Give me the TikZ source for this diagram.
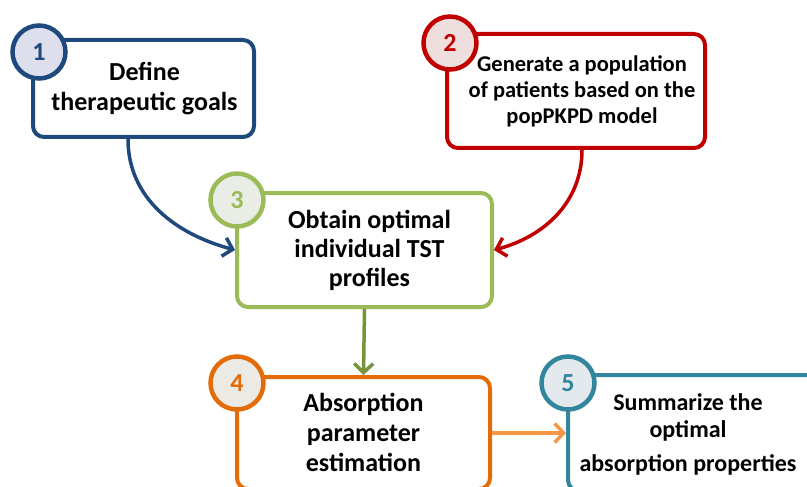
\documentclass[tikz,border=0pt]{standalone}
\usepackage{fontspec}
\setmainfont{Carlito}
\usetikzlibrary{arrows.meta,shadows}

\definecolor{cblue}{HTML}{1F497D}
\definecolor{cbluefill}{HTML}{DDE0EC}
\definecolor{cred}{HTML}{C00000}
\definecolor{credfill}{HTML}{EFDEDE}
\definecolor{cgreen}{HTML}{9BBB59}
\definecolor{cgreenfill}{HTML}{EAEDE6}
\definecolor{cgreenarrow}{HTML}{77933C}
\definecolor{corange}{HTML}{E36C09}
\definecolor{corangefill}{HTML}{EBEAE5}
\definecolor{corangearrow}{HTML}{F79646}
\definecolor{cteal}{HTML}{31859C}
\definecolor{ctealfill}{HTML}{E3E9EC}

\tikzset{
  stepbox/.style={draw=#1, line width=4pt, rounded corners=11pt, fill=white,
    inner sep=0pt, drop shadow={opacity=0.18, shadow xshift=1pt, shadow yshift=-2pt}},
  numcirc/.style={circle, draw=#1, line width=4.5pt, minimum size=53pt,
    inner sep=0pt, font=\fontsize{26}{26}\selectfont\bfseries, text=#1},
  boxtext/.style={align=center, font=\bfseries},
  flow/.style={line width=3.5pt, -{Straight Barb[length=9pt,width=19pt,line width=3.5pt]}},
}

\begin{document}
\begin{tikzpicture}[x=1pt,y=1pt]
\useasboundingbox (0,0) rectangle (807,-487);
\clip (0,0) rectangle (807,-487);

% step boxes
\node[stepbox=cblue, minimum width=221pt, minimum height=97pt] (b1) at (143.5,-88.5) {};
\node[stepbox=cred, minimum width=258pt, minimum height=114pt] (b2) at (576,-91) {};
\node[stepbox=cgreen, minimum width=255pt, minimum height=114pt] (b3) at (364.5,-250) {};
\node[stepbox=corange, minimum width=253pt, minimum height=112pt] (b4) at (363.5,-433) {};
\node[stepbox=cteal, minimum width=252pt, minimum height=116pt] (b5) at (694,-433) {};

% box texts
\node[boxtext, font=\fontsize{26}{30}\selectfont\bfseries] (t1) at ([xshift=1pt]b1.center) {Define\\therapeutic goals};
\node[boxtext, font=\fontsize{22.5}{26}\selectfont\bfseries] (t2) at ([xshift=6pt]b2.center) {Generate a population\\of patients based on the\\popPKPD model};
\node[boxtext, font=\fontsize{26}{29}\selectfont\bfseries] (t3) at ([xshift=5pt]b3.center) {Obtain optimal\\individual TST\\profiles};
\node[boxtext, font=\fontsize{26}{30}\selectfont\bfseries] (t4) at ([yshift=1pt]b4.center) {Absorption\\parameter\\estimation};
\node[boxtext, font=\fontsize{24}{27}\selectfont\bfseries] (t5) at ([xshift=-6pt,yshift=-1pt]b5.center) {Summarize the\\optimal\\[7pt]absorption properties};

% number badges
\node[numcirc=cblue, fill=cbluefill] (n1) at (39,-52) {1};
\node[numcirc=cred, fill=credfill] (n2) at (450,-43) {2};
\node[numcirc=cgreen, fill=cgreenfill] (n3) at (237,-200) {3};
\node[numcirc=corange, fill=corangefill] (n4) at (237,-383) {4};
\node[numcirc=cteal, fill=ctealfill] (n5) at (568,-383) {5};

% connectors
\draw[flow, cblue] ([xshift=-15.5pt]b1.south) to[out=-90, in=165] (b3.west);
\draw[flow, cred] ([xshift=6pt]b2.south) to[out=-90, in=15] (b3.east);
\draw[flow, cgreenarrow] (b3.south) -- (b4.north);
\draw[flow, corangearrow] (b4.east) -- (b5.west);
\end{tikzpicture}
\end{document}
